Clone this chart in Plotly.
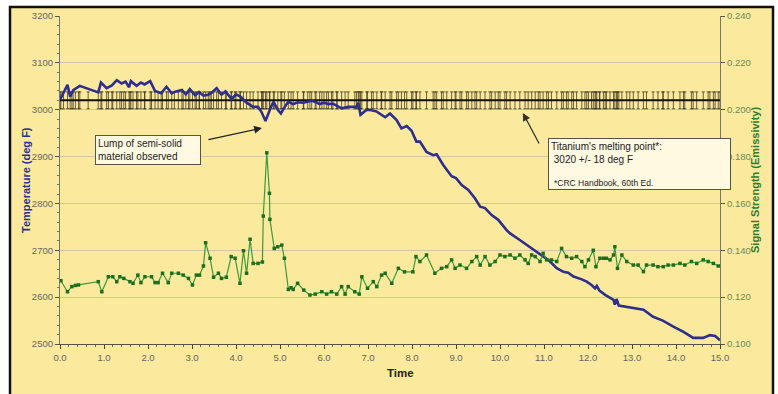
import plotly.graph_objects as go

# ---------------- data ----------------
temp_time = [0.00, 0.08, 0.17, 0.23, 0.30, 0.45, 0.64, 0.87, 0.93, 1.06, 1.18, 1.29, 1.40, 1.49, 1.57, 1.61,
             1.74, 1.84, 1.92, 2.05, 2.16, 2.30, 2.42, 2.54, 2.60, 2.77, 2.86, 2.95, 3.07, 3.16, 3.26, 3.37,
             3.44, 3.56, 3.67, 3.76, 3.90, 4.00, 4.10, 4.24, 4.39, 4.50, 4.58, 4.67, 4.77, 4.85, 4.95, 5.02,
             5.10, 5.19, 5.30, 5.40, 5.53, 5.63, 5.72, 5.82, 5.90, 6.00, 6.10, 6.20, 6.30, 6.40, 6.55, 6.74,
             6.78, 6.83, 6.97, 7.08, 7.20, 7.30, 7.39, 7.50, 7.65, 7.76, 7.88, 7.99, 8.10, 8.18, 8.33, 8.48,
             8.56, 8.71, 8.90, 9.00, 9.13, 9.28, 9.43, 9.55, 9.66, 9.81, 9.96, 10.15, 10.23, 10.45, 10.64,
             10.87, 11.10, 11.29, 11.44, 11.55, 11.67, 11.86, 11.97, 12.08, 12.16, 12.20, 12.26, 12.39, 12.58,
             12.61, 12.65, 12.70, 12.95, 13.26, 13.48, 13.70, 13.94, 14.17, 14.39, 14.62, 14.77, 14.89, 15.00]
temperature = [3021, 3035, 3053, 3028, 3042, 3051, 3044, 3037, 3058, 3046, 3052, 3063, 3056, 3060, 3048, 3061,
               3051, 3058, 3054, 3061, 3040, 3035, 3049, 3035, 3038, 3042, 3033, 3044, 3031, 3038, 3030, 3032,
               3036, 3046, 3032, 3039, 3023, 3033, 3028, 3015, 3006, 3006, 2995, 2976, 3000, 3017, 3000, 2992,
               3005, 3017, 3012, 3016, 3015, 3017, 3019, 3016, 3012, 3015, 3012, 3013, 3008, 3003, 3006, 3006,
               3015, 2989, 3000, 2999, 2996, 2990, 2984, 2992, 2978, 2960, 2965, 2955, 2932, 2932, 2910, 2903,
               2905, 2882, 2858, 2854, 2839, 2829, 2811, 2793, 2790, 2775, 2765, 2743, 2736, 2722, 2709,
               2695, 2679, 2662, 2654, 2652, 2644, 2638, 2633, 2626, 2619, 2624, 2614, 2605, 2594,
               2584, 2596, 2582, 2578, 2573, 2558, 2550, 2537, 2526, 2513, 2513, 2519, 2517, 2508]

sig_time = [0.02, 0.17, 0.27, 0.35, 0.42, 0.87, 0.95, 1.10, 1.20, 1.29, 1.36, 1.45, 1.59, 1.66, 1.77, 1.84,
            1.93, 2.08, 2.16, 2.23, 2.33, 2.46, 2.54, 2.69, 2.80, 2.92, 3.01, 3.10, 3.17, 3.26, 3.31, 3.41,
            3.49, 3.60, 3.67, 3.78, 3.89, 3.98, 4.09, 4.17, 4.24, 4.32, 4.39, 4.50, 4.60, 4.62, 4.70, 4.76,
            4.77, 4.87, 4.95, 5.04, 5.10, 5.19, 5.25, 5.30, 5.40, 5.54, 5.68, 5.80, 5.95, 6.06, 6.17, 6.29,
            6.40, 6.48, 6.55, 6.70, 6.80, 6.86, 6.99, 7.12, 7.20, 7.31, 7.39, 7.54, 7.69, 7.83, 8.02, 8.09,
            8.18, 8.33, 8.52, 8.67, 8.79, 8.90, 8.98, 9.09, 9.24, 9.36, 9.47, 9.55, 9.66, 9.77, 9.89, 10.00,
            10.11, 10.23, 10.34, 10.45, 10.57, 10.64, 10.72, 10.80, 10.91, 10.98, 11.06, 11.17, 11.29, 11.40,
            11.51, 11.63, 11.74, 11.86, 11.93, 12.01, 12.12, 12.18, 12.27, 12.35, 12.42, 12.50, 12.58, 12.61,
            12.67, 12.77, 12.88, 13.03, 13.14, 13.26, 13.33, 13.48, 13.59, 13.71, 13.82, 13.94, 14.09, 14.20,
            14.35, 14.47, 14.62, 14.73, 14.85, 14.96]
signal = [0.1270, 0.1223, 0.1245, 0.1250, 0.1252, 0.1266, 0.1223, 0.1287, 0.1287, 0.1266, 0.1287, 0.1280,
          0.1266, 0.1259, 0.1294, 0.1262, 0.1287, 0.1287, 0.1262, 0.1262, 0.1302, 0.1262, 0.1302, 0.1302,
          0.1294, 0.1280, 0.1252, 0.1294, 0.1294, 0.1333, 0.1432, 0.1366, 0.1285, 0.1302, 0.1280, 0.1285,
          0.1373, 0.1366, 0.1259, 0.1398, 0.1302, 0.1447, 0.1344, 0.1344, 0.1350, 0.1546, 0.1816, 0.1643,
          0.1532, 0.1408, 0.1415, 0.1422, 0.1366, 0.1233, 0.1240, 0.1233, 0.1259, 0.1230, 0.1209, 0.1213,
          0.1223, 0.1213, 0.1223, 0.1213, 0.1245, 0.1213, 0.1245, 0.1223, 0.1213, 0.1287, 0.1238, 0.1266,
          0.1245, 0.1294, 0.1302, 0.1259, 0.1323, 0.1308, 0.1308, 0.1373, 0.1352, 0.1380, 0.1302, 0.1323,
          0.1330, 0.1359, 0.1323, 0.1337, 0.1323, 0.1352, 0.1373, 0.1337, 0.1373, 0.1337, 0.1352, 0.1380,
          0.1373, 0.1380, 0.1366, 0.1380, 0.1359, 0.1344, 0.1380, 0.1373, 0.1352, 0.1387, 0.1359, 0.1359,
          0.1352, 0.1408, 0.1373, 0.1366, 0.1373, 0.1352, 0.1330, 0.1359, 0.1400, 0.1330, 0.1366, 0.1366,
          0.1366, 0.1359, 0.1380, 0.1415, 0.1323, 0.1380, 0.1352, 0.1337, 0.1337, 0.1309, 0.1337, 0.1337,
          0.1330, 0.1330, 0.1337, 0.1337, 0.1344, 0.1337, 0.1352, 0.1344, 0.1359, 0.1352, 0.1344, 0.1333]

melt_point = 3020
melt_tol = 18

x_ticks = [0, 1, 2, 3, 4, 5, 6, 7, 8, 9, 10, 11, 12, 13, 14, 15]
x_tick_labels = ["0.0", "1.0", "2.0", "3.0", "4.0", "5.0", "6.0", "7.0", "8.0", "9.0",
                 "10.0", "11.0", "12.0", "13.0", "14.0", "15.0"]

# ---------------- figure ----------------
BG = "#FBE99D"
NAVY = "#2E2E8C"
FONT = "Liberation Sans, Arial, sans-serif"

hatch_time = sorted(set(temp_time) | set(sig_time))

fig = go.Figure()

fig.add_trace(go.Scatter(
    x=hatch_time, y=[melt_point] * len(hatch_time), mode="lines",
    line=dict(color="#111111", width=2),
    error_y=dict(type="constant", value=melt_tol, color="rgba(50,42,20,0.7)", thickness=1, width=1.6),
    hoverinfo="skip", showlegend=False))

fig.add_trace(go.Scatter(
    x=temp_time, y=temperature, mode="lines",
    line=dict(color=NAVY, width=2.6), showlegend=False))

fig.add_trace(go.Scatter(
    x=sig_time, y=signal, mode="lines+markers", yaxis="y2",
    line=dict(color="#3C9A3C", width=1.2),
    marker=dict(color="#1F6E1F", size=3.5, symbol="square"),
    showlegend=False))

fig.update_layout(
    width=778, height=394,
    margin=dict(l=60, r=58, t=16, b=50, autoexpand=False),
    paper_bgcolor="white",
    plot_bgcolor="rgba(0,0,0,0)",
    font=dict(family=FONT, size=10, color="#555555"),
    xaxis=dict(range=[0, 15], tickvals=x_ticks, ticktext=x_tick_labels,
               showgrid=False, zeroline=False, showline=True, linecolor="#555544", linewidth=1.2,
               ticks="outside", ticklen=4, tickcolor="#444433", tickfont=dict(size=9.5, color="#666666"),
               minor=dict(dtick=0.2, ticks="outside", ticklen=2, tickcolor="#666655")),
    yaxis=dict(range=[2500, 3200], dtick=100, showgrid=True, gridcolor="#CFC6A2", gridwidth=1,
               zeroline=False, showline=True, linecolor="#777766", linewidth=1.2,
               ticks="outside", ticklen=4, tickcolor="#555544",
               tickfont=dict(size=9.5, color="#666666"),
               minor=dict(dtick=20, ticks="outside", ticklen=2, tickcolor="#777766", showgrid=False)),
    yaxis2=dict(range=[0.1, 0.24], dtick=0.02, tickformat=".3f", overlaying="y", side="right",
                anchor="x", showgrid=False, zeroline=False, showline=True, linecolor="#777766",
                linewidth=1.2, ticks="outside", ticklen=4, tickcolor="#555544",
                tickfont=dict(size=9.5, color="#6A8A5A")),
)

# background panel with black frame
fig.add_shape(type="rect", xref="paper", yref="paper",
              x0=(10 - 60) / 660, x1=(773 - 60) / 660, y0=(344 - 400) / 328, y1=(344 - 7) / 328,
              fillcolor=BG, line=dict(color="#111111", width=2.5), layer="below")

ann = []
ann.append(dict(text="<b>Temperature (deg F)</b>", xref="paper", yref="paper",
                x=(18 - 60) / 660, y=(344 - 180) / 328, textangle=-90, showarrow=False,
                font=dict(size=11, color=NAVY, family=FONT)))
ann.append(dict(text="<b>Signal Strength (Emissivity)</b>", xref="paper", yref="paper",
                x=(763 - 60) / 660, y=(344 - 180) / 328, textangle=-90, showarrow=False,
                font=dict(size=11, color="#2E7D32", family=FONT)))
ann.append(dict(text="<b>Time</b>", xref="paper", yref="paper",
                x=(400 - 60) / 660, y=(344 - 381) / 328, showarrow=False,
                font=dict(size=11.5, color="#222222", family=FONT)))

ann.append(dict(text="Lump of semi-solid<br>material observed", xref="x", yref="y",
                x=0.795, y=2946, xanchor="left", yanchor="top", showarrow=False,
                align="left", valign="top", width=100, height=24, borderpad=2,
                bgcolor="#FFF9E2", bordercolor="#555544", borderwidth=1,
                font=dict(size=10, color="#222222", family=FONT)))
ann.append(dict(text="", xref="x", yref="y", x=4.59, y=2961, ax=-55, ay=12,
                showarrow=True, arrowhead=2, arrowsize=1.2, arrowwidth=1.3, arrowcolor="#222222"))

ann.append(dict(text="Titanium's melting point*:<br> 3020 +/- 18 deg F", xref="x", yref="y",
                x=11.09, y=2939.6, xanchor="left", yanchor="top", showarrow=False,
                align="left", valign="top", width=177, height=46, borderpad=2,
                bgcolor="#FFF9E2", bordercolor="#555544", borderwidth=1,
                font=dict(size=10, color="#222222", family=FONT)))
ann.append(dict(text="*CRC Handbook, 60th Ed.", xref="paper", yref="paper",
                x=(552 - 60) / 660, y=(344 - 183) / 328, xanchor="left", yanchor="middle",
                showarrow=False, font=dict(size=8.5, color="#222222", family=FONT)))
ann.append(dict(text="", xref="x", yref="y", x=10.52, y=2993, ax=17, ay=32,
                showarrow=True, arrowhead=2, arrowsize=1.2, arrowwidth=1.3, arrowcolor="#333333"))

fig.update_layout(annotations=ann)

fig.write_html("out.html", config={"displayModeBar": False},
               post_script="document.body.style.margin='0px';document.body.style.overflow='hidden';")
